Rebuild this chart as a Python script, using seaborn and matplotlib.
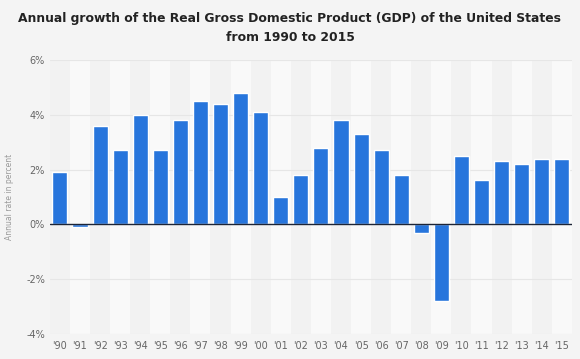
import matplotlib
matplotlib.use("Agg")
import matplotlib.pyplot as plt
import pandas as pd
import seaborn as sns

years = ["'90", "'91", "'92", "'93", "'94", "'95", "'96", "'97", "'98", "'99",
         "'00", "'01", "'02", "'03", "'04", "'05", "'06", "'07", "'08", "'09",
         "'10", "'11", "'12", "'13", "'14", "'15"]
growth = [1.9, -0.1, 3.6, 2.7, 4.0, 2.7, 3.8, 4.5, 4.4, 4.8,
          4.1, 1.0, 1.8, 2.8, 3.8, 3.3, 2.7, 1.8, -0.3, -2.8,
          2.5, 1.6, 2.3, 2.2, 2.4, 2.4]
yticks = [-4, -2, 0, 2, 4, 6]

df = pd.DataFrame({"year": years, "growth": growth})

sns.set_style("white")
plt.rcParams['font.family'] = ['DejaVu Sans']

fig = plt.figure(figsize=(5.8, 3.59), dpi=100, facecolor="#f4f4f4")
ax = fig.add_axes([0.086, 0.070, 0.900, 0.763])
ax.set_facecolor("#f4f4f4")

# alternating column bands
for i in range(len(years)):
    ax.axvspan(i - 0.5, i + 0.5, color="#f2f2f2" if i % 2 == 0 else "#f9f9f9",
               zorder=0, lw=0)

for t in yticks:
    if t != 0:
        ax.axhline(t, color="#e6e6e6", lw=0.8, zorder=1)

sns.barplot(data=df, x="year", y="growth", color="#2775dc", saturation=1,
            width=0.75, ax=ax, zorder=2)
ax.axhline(0, color="#1c2436", lw=1.0, zorder=3)

ax.set_xlim(-0.5, len(years) - 0.5)
ax.set_ylim(-4, 6)
ax.set_yticks(yticks)
ax.set_yticklabels([f"{t}%" for t in yticks])
ax.tick_params(axis="both", length=0, labelsize=7, labelcolor="#666666")
ax.tick_params(axis="x", pad=5)
ax.set_xlabel("")
ax.set_ylabel("Annual rate in percent", fontsize=5.5, color="#999999", labelpad=9)
for s in ax.spines.values():
    s.set_visible(False)

fig.suptitle("Annual growth of the Real Gross Domestic Product (GDP) of the United States\nfrom 1990 to 2015",
             x=0.5, y=0.967, fontsize=8.9, fontweight="bold", color="#222222",
             linespacing=1.65)

fig.savefig("out.png", dpi=100, facecolor=fig.get_facecolor())
